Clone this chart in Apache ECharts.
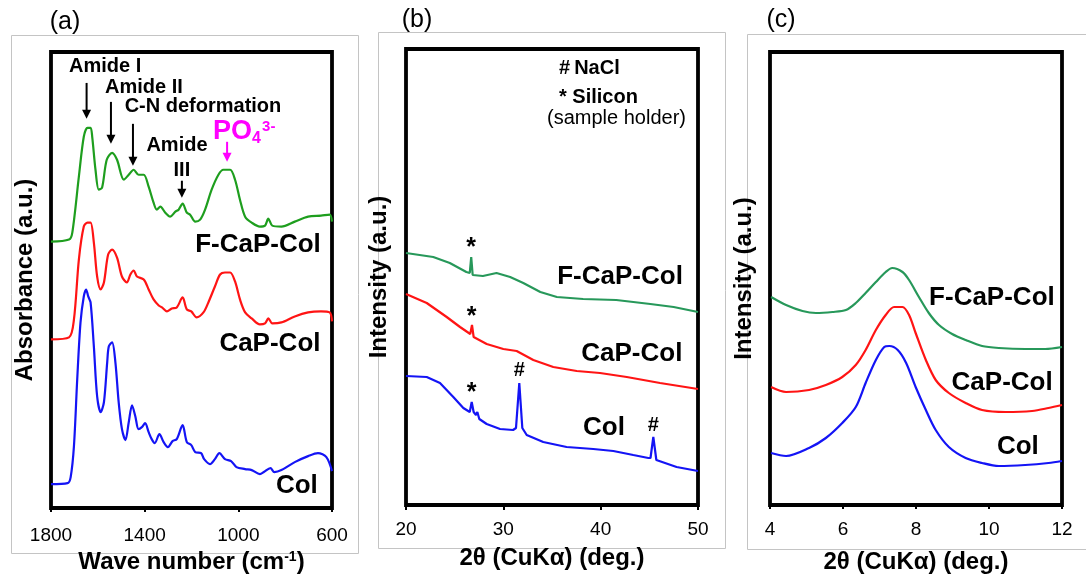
<!DOCTYPE html>
<html><head><meta charset="utf-8">
<script src="https://cdn.jsdelivr.net/npm/echarts@6/dist/echarts.min.js"></script>
<style>html,body{margin:0;padding:0;background:#fff}#c{width:1086px;height:579px}</style>
</head><body><div id="c"></div>
<script>
// ---------- Panel (a): FTIR ----------
const ftirTicks = [1800, 1400, 1000, 600];
const ftirFCaPCol = [[1800,266],[1723,268],[1709,275],[1681,331],[1660,371],[1644,380],[1631,380],[1624,371],[1610,338],[1596,318],[1582,320],[1562,348],[1539,355],[1518,348],[1489,328],[1468,333],[1447,338],[1426,333],[1404,333],[1383,321],[1362,305],[1348,298],[1333,301],[1312,295],[1291,291],[1269,296],[1255,298],[1238,304],[1220,295],[1206,293],[1184,286],[1163,288],[1142,298],[1114,318],[1085,333],[1064,338],[1035,338],[1014,328],[993,308],[971,291],[943,285],[908,281],[886,282],[872,289],[855,282],[816,281],[759,286],[702,291],[647,292],[610,293],[600,286]];
const ftirCaPCol = [[1800,168],[1723,170],[1702,188],[1681,248],[1660,281],[1644,285],[1631,285],[1617,265],[1603,231],[1588,218],[1574,225],[1556,253],[1539,258],[1518,250],[1497,231],[1476,225],[1461,233],[1447,237],[1433,231],[1404,228],[1383,218],[1362,208],[1340,202],[1326,200],[1305,196],[1284,199],[1263,200],[1238,210],[1220,198],[1201,196],[1178,190],[1149,195],[1128,205],[1100,221],[1078,233],[1057,235],[1035,235],[1014,226],[993,208],[971,195],[943,189],[908,183],[886,184],[872,189],[855,184],[816,185],[759,191],[702,195],[647,196],[610,195],[600,186]];
const ftirCol = [[1800,23],[1729,24],[1716,30],[1702,61],[1688,128],[1674,185],[1660,211],[1650,218],[1641,211],[1631,205],[1617,161],[1603,111],[1588,95],[1574,105],[1560,145],[1553,161],[1539,165],[1525,145],[1511,105],[1497,78],[1482,67],[1468,85],[1454,102],[1440,91],[1426,78],[1412,80],[1398,84],[1383,75],[1370,68],[1357,64],[1337,73],[1319,65],[1301,60],[1281,66],[1263,68],[1238,82],[1220,65],[1201,62],[1184,55],[1159,54],[1146,48],[1121,43],[1100,48],[1081,54],[1057,48],[1031,46],[1008,40],[971,38],[943,37],[908,33],[891,35],[863,39],[846,35],[816,37],[759,45],[702,51],[660,54],[624,50],[600,36]];
// annotations for (a), anchored in data coordinates
const ftirNotes = [
  {text:'Amide I', at:[1569,441]},
  {text:'Amide II', at:[1403,420]},
  {text:'C-N deformation', at:[1151,401]},
  {text:'Amide', at:[1262,362]},
  {text:'III', at:[1241,337]}
];
const ftirArrows = [
  {from:[1648,425], to:[1648,389]},
  {from:[1544,406], to:[1544,364]},
  {from:[1450,384], to:[1450,342]},
  {from:[1241,327], to:[1241,310]}
];
const ftirPO4Arrow = {from:[1048,366], to:[1048,346]};
const ftirPO4Text = [1108,376];
const ftirSampleLabels = [
  {text:'F-CaP-Col', at:[916,263]},
  {text:'CaP-Col', at:[865,164]},
  {text:'Col', at:[750,21]}
];

// ---------- Panel (b): wide-angle XRD ----------
const xrdWideFCaPCol = [[20,252],[22.8,248],[24.5,242],[26.2,233],[26.55,232],[26.7,248],[26.85,230],[27.9,229],[29.3,232],[30.7,228],[32.05,222],[33.8,213],[35.5,208],[38.2,206],[41.6,205],[45.1,201],[47.5,198],[50,193]];
const xrdWideCaPCol = [[20,211],[22.13,202],[24.18,188],[25.55,178],[26.6,171],[26.78,180],[26.95,168],[28.29,161],[30,156],[31.37,154],[33.08,145],[35.13,138],[37.54,134],[39.93,132],[42.68,128],[46.1,122],[50,116]];
const xrdWideCol = [[20,129],[22.13,128],[23.49,122],[24.86,108],[25.89,97],[26.55,93],[26.75,103],[26.95,93],[27.19,90],[27.33,93],[27.53,86],[28.29,81],[29.66,76],[31.0,75],[31.3,77],[31.64,122],[31.95,77],[32.4,70],[34.1,63],[36.5,58],[39.24,56],[41.3,54],[43.35,50],[44.9,47],[45.12,47],[45.41,68],[45.72,45],[47.8,38],[50,34]];
const xrdWideMarks = [
  {text:'*', at:[26.68,257]},
  {text:'*', at:[26.75,188]},
  {text:'*', at:[26.75,112]},
  {text:'#', at:[31.64,135]},
  {text:'#', at:[45.41,80]}
];
const xrdWideLabels = [
  {text:'F-CaP-Col', at:[41.99,228]},
  {text:'CaP-Col', at:[43.2,151]},
  {text:'Col', at:[40.34,77]}
];
const xrdWideLegend = [
  {text:'#\u2009NaCl', at:[35.72,437], bold:true},
  {text:'* Silicon', at:[35.72,408], bold:true},
  {text:'(sample holder)', at:[34.49,387], bold:false}
];

// ---------- Panel (c): small-angle XRD ----------
const xrdSmallFCaPCol = [[4.03,207],[4.44,199],[4.89,193],[5.26,191],[5.71,192],[6.08,194],[6.35,201],[6.62,211],[6.9,222],[7.17,232],[7.35,236],[7.63,232],[7.81,224],[8.08,207],[8.35,191],[8.63,179],[8.99,170],[9.36,164],[9.81,158],[10.27,156],[10.99,155],[11.54,155],[12,157]];
const xrdSmallCaPCol = [[4.03,117],[4.44,112],[5.07,114],[5.53,119],[5.98,127],[6.35,139],[6.62,154],[6.9,174],[7.17,189],[7.4,197],[7.63,197],[7.81,189],[7.99,171],[8.27,144],[8.54,124],[8.9,111],[9.36,101],[9.81,94],[10.45,92],[11.18,93],[11.63,96],[12,99]];
const xrdSmallCol = [[4.03,51],[4.44,48],[5.07,56],[5.53,66],[5.98,81],[6.35,97],[6.62,121],[6.9,144],[7.13,157],[7.27,158],[7.5,154],[7.73,141],[7.99,117],[8.27,94],[8.54,74],[8.9,57],[9.36,46],[9.81,41],[10.27,38],[10.99,39],[11.63,41],[12,43]];
const xrdSmallLabels = [
  {text:'F-CaP-Col', at:[10.08,206]},
  {text:'CaP-Col', at:[10.36,121]},
  {text:'Col', at:[10.79,57]}
];

// ---------- styling ----------
const F = '"Liberation Sans", Arial, Helvetica, sans-serif';
const GREEN_A = '#1e9e1e', GREEN_B = '#27985a', RED = '#ff1414', BLUE = '#1414f5', MAGENTA = '#ff00ff';

const chart = echarts.init(document.getElementById('c'));

function xAxis(gi, min, max, interval, name, gap, margin, extra) {
  return Object.assign({
    gridIndex: gi, type: 'value', min, max, interval,
    axisLine: {show: false},
    axisTick: {show: true, inside: false, length: 5, lineStyle: {color: '#000', width: 2}},
    axisLabel: {fontSize: 19, color: '#000', fontFamily: F, margin, formatter: v => String(v)},
    splitLine: {show: false},
    name, nameLocation: 'middle', nameGap: gap,
    nameTextStyle: {fontSize: 24, fontWeight: 'bold', color: '#000', fontFamily: F,
      rich: {sup: {fontSize: 14, fontWeight: 'bold', color: '#000', fontFamily: F, verticalAlign: 'top', lineHeight: 12}}}
  }, extra || {});
}
function yAxis(gi, min, max, name, gap) {
  return {
    gridIndex: gi, type: 'value', min, max,
    axisLine: {show: false}, axisTick: {show: false}, axisLabel: {show: false}, splitLine: {show: false},
    name, nameLocation: 'middle', nameGap: gap,
    nameTextStyle: {fontSize: 24, fontWeight: 'bold', color: '#000', fontFamily: F}
  };
}
function line(xi, data, color, smooth) {
  return {type: 'line', xAxisIndex: xi, yAxisIndex: xi, data, showSymbol: false, smooth,
    lineStyle: {color, width: 2.2}, itemStyle: {color}, silent: true, animation: false};
}

const gridStyle = {show: true, borderColor: '#000', borderWidth: 3.8, backgroundColor: 'transparent'};

chart.setOption({
  animation: false,
  backgroundColor: '#fff',
  grid: [
    Object.assign({left: 51, top: 52, width: 281, height: 457}, gridStyle),
    Object.assign({left: 406, top: 49, width: 292, height: 456}, gridStyle),
    Object.assign({left: 770, top: 52, width: 292, height: 453}, gridStyle)
  ],
  xAxis: [
    xAxis(0, 600, 1800, 400, 'Wave number (cm{sup|-1})', 42, 18, {
      inverse: true,
      axisTick: {show: true, inside: false, length: 5, lineStyle: {color: '#000', width: 2}, customValues: ftirTicks},
      axisLabel: {fontSize: 19, color: '#000', fontFamily: F, margin: 18, formatter: v => String(v), customValues: ftirTicks}
    }),
    xAxis(1, 20, 50, 10, '2θ (CuKα) (deg.)', 41, 15),
    xAxis(2, 4, 12, 2, '2θ (CuKα) (deg.)', 45, 15)
  ],
  yAxis: [
    yAxis(0, -1, 456, 'Absorbance (a.u.)', 14),
    yAxis(1, 0, 456, 'Intensity (a.u.)', 15),
    yAxis(2, -1, 452, 'Intensity (a.u.)', 14)
  ],
  series: [
    line(0, ftirFCaPCol, GREEN_A, 0.3),
    line(0, ftirCaPCol, RED, 0.3),
    line(0, ftirCol, BLUE, 0.3),
    line(1, xrdWideFCaPCol, GREEN_B, false),
    line(1, xrdWideCaPCol, RED, false),
    line(1, xrdWideCol, BLUE, false),
    line(2, xrdSmallFCaPCol, GREEN_B, 0.3),
    line(2, xrdSmallCaPCol, RED, 0.3),
    line(2, xrdSmallCol, BLUE, 0.3)
  ]
});

// ---------- annotations (positions converted from data coordinates) ----------
const P = (gi, pt) => chart.convertToPixel({gridIndex: gi}, pt);
const g = [];
function txt(p, text, size, opts) {
  g.push({type: 'text', z: 10, silent: true, style: Object.assign({
    x: p[0], y: p[1], text, fill: '#000', fontSize: size, fontWeight: 'bold', fontFamily: F,
    align: 'center', verticalAlign: 'middle'}, opts || {})});
}
function arrow(gi, a, color) {
  const p1 = P(gi, a.from), p2 = P(gi, a.to);
  const h = 9, w = 4.5;
  g.push({type: 'line', z: 10, silent: true, shape: {x1: p1[0], y1: p1[1], x2: p2[0], y2: p2[1] - h + 1},
    style: {stroke: color, lineWidth: 2}});
  g.push({type: 'polygon', z: 10, silent: true,
    shape: {points: [[p2[0] - w, p2[1] - h], [p2[0] + w, p2[1] - h], [p2[0], p2[1]]]},
    style: {fill: color}});
}
ftirNotes.forEach(n => txt(P(0, n.at), n.text, 20));
ftirArrows.forEach(a => arrow(0, a, '#000'));
arrow(0, ftirPO4Arrow, MAGENTA);
const po = P(0, ftirPO4Text);
txt(po, 'PO', 27, {fill: MAGENTA, align: 'left'});
txt([po[0] + 39, po[1] + 7], '4', 16, {fill: MAGENTA, align: 'left'});
txt([po[0] + 49, po[1] - 5], '3-', 15, {fill: MAGENTA, align: 'left'});
ftirSampleLabels.forEach(n => txt(P(0, n.at), n.text, 26));

xrdWideMarks.forEach(n => txt(P(1, n.at), n.text, n.text === '*' ? 25 : 20));
xrdWideLabels.forEach(n => txt(P(1, n.at), n.text, 26));
xrdWideLegend.forEach(n => txt(P(1, n.at), n.text, 20, {align: 'left', fontWeight: n.bold ? 'bold' : 'normal'}));
xrdSmallLabels.forEach(n => txt(P(2, n.at), n.text, 26));

// panel frames and panel letters
[[11.5, 35.5, 347, 518], [378.5, 32.5, 347, 516], [747.5, 34.5, 345, 515]].forEach(r => {
  g.push({type: 'rect', z: 0, silent: true, shape: {x: r[0], y: r[1], width: r[2], height: r[3]},
    style: {fill: 'none', stroke: '#c4c4c4', lineWidth: 1}});
});
txt([65, 22], '(a)', 25, {fontWeight: 'normal'});
txt([417, 20], '(b)', 25, {fontWeight: 'normal'});
txt([781, 20], '(c)', 25, {fontWeight: 'normal'});

chart.setOption({graphic: g});
</script>
</body></html>
